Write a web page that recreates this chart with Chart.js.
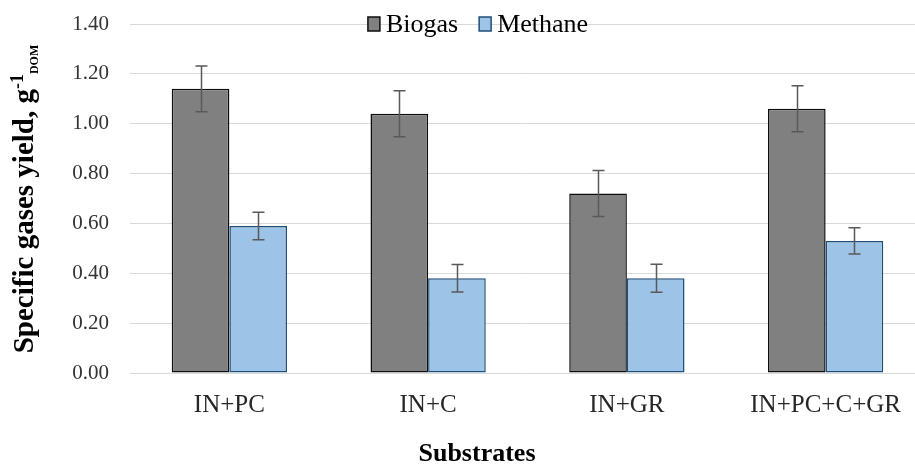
<!DOCTYPE html>
<html>
<head>
<meta charset="utf-8">
<script src="https://cdn.jsdelivr.net/npm/chart.js@4"></script>
<style>
  html, body { margin: 0; padding: 0; background: #fff; overflow: hidden; }
  #wrap { position: relative; width: 925px; height: 465px; }
</style>
</head>
<body>
<div id="wrap"><canvas id="gasChart"></canvas></div>
<script>
const substrates = ["IN+PC", "IN+C", "IN+GR", "IN+PC+C+GR"];
const biogas = [1.14, 1.04, 0.72, 1.06];
const biogasErr = [0.092, 0.092, 0.092, 0.092];
const methane = [0.59, 0.38, 0.38, 0.53];
const methaneErr = [0.055, 0.055, 0.056, 0.053];
const yTicks = [0, 0.2, 0.4, 0.6, 0.8, 1.0, 1.2, 1.4];

const serif = "'Liberation Serif', 'Times New Roman', serif";

const overlay = {
    id: 'overlay',
    afterDatasetsDraw(chart) {
        const ctx = chart.ctx;
        const y = chart.scales.y;
        ctx.save();
        ctx.strokeStyle = '#595959';
        ctx.lineWidth = 1.5;
        [biogasErr, methaneErr].forEach((errs, di) => {
            const vals = chart.data.datasets[di].data;
            chart.getDatasetMeta(di).data.forEach((bar, i) => {
                const top = y.getPixelForValue(vals[i] + errs[i]);
                const bot = y.getPixelForValue(vals[i] - errs[i]);
                const x = Math.round(bar.x) + 0.5;
                ctx.beginPath();
                ctx.moveTo(x, top); ctx.lineTo(x, bot);
                ctx.moveTo(x - 6, top); ctx.lineTo(x + 6, top);
                ctx.moveTo(x - 6, bot); ctx.lineTo(x + 6, bot);
                ctx.stroke();
            });
        });
        ctx.restore();
    },
    afterDraw(chart) {
        const ctx = chart.ctx;
        ctx.save();

        // legend
        ctx.font = '26px ' + serif;
        ctx.textBaseline = 'alphabetic';
        ctx.textAlign = 'left';
        const items = chart.data.datasets.map(d => ({ label: d.label, fill: d.backgroundColor, stroke: d.borderColor }));
        const boxW = 12, gap = 6, itemGap = 21;
        let total = 0;
        items.forEach((it, i) => {
            total += boxW + gap + ctx.measureText(it.label).width + (i < items.length - 1 ? itemGap : 0);
        });
        let lx = 478 - total / 2;
        items.forEach(it => {
            ctx.fillStyle = it.fill;
            ctx.fillRect(lx, 17, boxW, 14);
            ctx.strokeStyle = it.stroke;
            ctx.lineWidth = 1.5;
            ctx.strokeRect(lx, 17, boxW, 14);
            ctx.fillStyle = '#000';
            ctx.fillText(it.label, lx + boxW + gap, 32);
            lx += boxW + gap + ctx.measureText(it.label).width + itemGap;
        });

        // x axis title
        ctx.font = 'bold 26px ' + serif;
        ctx.textAlign = 'center';
        ctx.fillText('Substrates', 477, 461);

        // y axis title with superscript and subscript
        const parts = [
            { t: 'Specific gases yield, g', f: 'bold 29px ' + serif, dy: 0 },
            { t: '-1', f: 'bold 18px ' + serif, dy: -10 },
            { t: 'DOM', f: 'bold 12px ' + serif, dy: 5 }
        ];
        let len = 0;
        parts.forEach(p => { ctx.font = p.f; p.w = ctx.measureText(p.t).width; len += p.w; });
        ctx.translate(33, 199);
        ctx.rotate(-Math.PI / 2);
        ctx.textAlign = 'left';
        let px = -len / 2;
        parts.forEach(p => {
            ctx.font = p.f;
            ctx.fillText(p.t, px, p.dy);
            px += p.w;
        });
        ctx.restore();
    }
};

new Chart(document.getElementById('gasChart'), {
    type: 'bar',
    data: {
        labels: substrates,
        datasets: [{
            label: 'Biogas',
            data: biogas,
            backgroundColor: '#808080',
            borderColor: '#0d0d0d',
            borderWidth: 1.5,
            borderSkipped: false
        }, {
            label: 'Methane',
            data: methane,
            backgroundColor: '#9dc3e6',
            borderColor: '#1f4e79',
            borderWidth: 1.5,
            borderSkipped: false
        }]
    },
    options: {
        responsive: true,
        maintainAspectRatio: false,
        animation: false,
        layout: { padding: { top: 24, left: 0, right: 0, bottom: 0 } },
        categoryPercentage: 0.58,
        barPercentage: 1.0,
        plugins: {
            legend: { display: false },
            tooltip: { enabled: false }
        },
        scales: {
            x: {
                grid: { display: false, drawTicks: false },
                border: { display: false },
                ticks: { color: '#262626', font: { family: serif, size: 25 }, padding: 17, maxRotation: 0, autoSkip: false },
                afterFit(scale) { scale.height = 92; }
            },
            y: {
                min: 0,
                max: 1.4,
                afterBuildTicks(scale) { scale.ticks = yTicks.map(v => ({ value: v })); },
                grid: { color: '#d9d9d9', lineWidth: 1, drawTicks: false },
                border: { display: false },
                ticks: {
                    color: '#333333',
                    font: { family: serif, size: 21 },
                    padding: 21,
                    callback: v => v.toFixed(2)
                },
                afterFit(scale) {
                    scale.width = 130;
                    scale.paddingTop = 0;
                    scale.paddingBottom = 0;
                }
            }
        }
    },
    plugins: [overlay]
});
</script>
</body>
</html>
